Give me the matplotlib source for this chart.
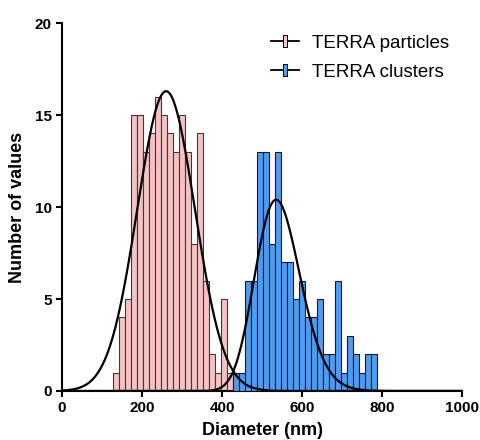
import numpy as np
import matplotlib.pyplot as plt
from matplotlib.lines import Line2D
from matplotlib.path import Path

plt.rcParams['font.family'] = ['Liberation Sans', 'DejaVu Sans']

# histogram data (bin centres in nm, bin width 15 nm)
bin_width = 15
pink_centers = [135, 150, 165, 180, 195, 210, 225, 240, 255, 270,
                285, 300, 315, 330, 345, 360, 375, 390, 405, 420]
pink_counts = [1, 4, 5, 15, 15, 13, 14, 16, 15, 14,
               13, 15, 13, 8, 14, 6, 2, 1, 5, 1]
blue_centers = [435, 450, 465, 480, 495, 510, 525, 540, 555, 570,
                585, 600, 615, 630, 645, 660, 675, 690, 705, 720,
                735, 750, 765, 780]
blue_counts = [1, 1, 6, 6, 13, 13, 8, 13, 7, 7,
               5, 6, 4, 4, 5, 2, 2, 6, 1, 3,
               2, 1, 2, 2]

# fitted curves (amplitude, centre, width)
pink_fit = (16.3, 260, 72)
blue_fit = (10.4, 535, 0.105)

pink_col = '#f8c1c1'
blue_col = '#4d9cf0'

fig = plt.figure(figsize=(4.81, 4.40), dpi=100)
ax = fig.add_axes([0.129, 0.1114, 0.832, 0.836])

ax.bar(pink_centers, pink_counts, width=bin_width, color=pink_col,
       edgecolor='#3a3a3a', linewidth=0.8, zorder=2)
ax.bar(blue_centers, blue_counts, width=bin_width, color=blue_col,
       edgecolor='#1a1a1a', linewidth=0.8, zorder=3)

x = np.linspace(0.5, 1000, 1200)
a, mu, sd = pink_fit
ax.plot(x, a * np.exp(-0.5 * ((x - mu) / sd) ** 2), color='k', lw=1.6, zorder=4)
a, m, w = blue_fit
ax.plot(x, a * np.exp(-0.5 * (np.log(x / m) / w) ** 2), color='k', lw=1.6, zorder=4)

ax.set_xlim(0, 1000)
ax.set_ylim(0, 20)
ax.set_xticks([0, 200, 400, 600, 800, 1000])
ax.set_yticks([0, 5, 10, 15, 20])
for s in ['top', 'right']:
    ax.spines[s].set_visible(False)
for s in ['left', 'bottom']:
    ax.spines[s].set_linewidth(1.5)
ax.tick_params(width=1.5, length=4, labelsize=11, direction='out')
for lab in ax.get_xticklabels() + ax.get_yticklabels():
    lab.set_fontweight('bold')
ax.set_xlabel('Diameter (nm)', fontsize=13, fontweight='bold', labelpad=5)
ax.set_ylabel('Number of values', fontsize=13, fontweight='bold', labelpad=6)

rect = Path([(-0.4, -1), (0.4, -1), (0.4, 1), (-0.4, 1), (-0.4, -1)])
handles = [
    Line2D([0], [0], color='k', lw=1.3, marker=rect, markersize=8,
           markerfacecolor=pink_col, markeredgecolor='k', markeredgewidth=0.7),
    Line2D([0], [0], color='k', lw=1.3, marker=rect, markersize=8,
           markerfacecolor=blue_col, markeredgecolor='k', markeredgewidth=0.7),
]
ax.legend(handles, ['TERRA particles', 'TERRA clusters'], loc='upper right',
          bbox_to_anchor=(1.01, 1.015), frameon=False, fontsize=13.5,
          handlelength=1.5, labelspacing=0.65, handletextpad=0.7)

fig.savefig('out.png', dpi=100)
